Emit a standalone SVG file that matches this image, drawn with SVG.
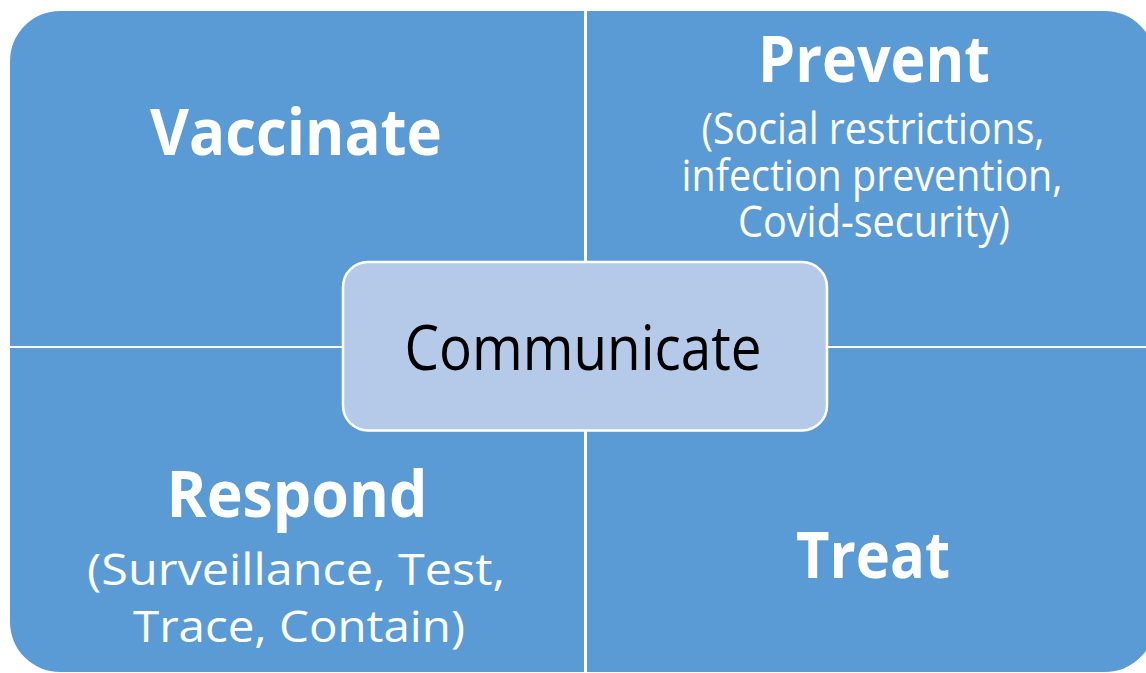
<svg xmlns="http://www.w3.org/2000/svg" width="1146" height="673" viewBox="0 0 1146 673">
<style>
.q{fill:#5B9BD5}
.t{font-family:"Open Sans","Noto Sans",sans-serif;fill:#fff;text-anchor:middle}
.b{font-weight:bold;font-size:64px}
.s{font-size:43px}
.c{font-family:"Open Sans","Noto Sans",sans-serif;font-size:63px;fill:#000;text-anchor:middle}
</style>
<rect width="1146" height="673" fill="#fff"/>
<g id="vaccinate">
<path class="q" d="M10,61 A50,50 0 0 1 60,11 L584,11 L584,346 L10,346 Z"/>
<text class="t b" x="296" y="155" textLength="292" lengthAdjust="spacingAndGlyphs">Vaccinate</text>
</g>
<g id="prevent">
<path class="q" d="M587,11 L1105,11 A50,50 0 0 1 1155,61 L1155,346 L587,346 Z"/>
<text class="t b" x="874" y="82" textLength="232" lengthAdjust="spacingAndGlyphs">Prevent</text>
<text class="t s"><tspan x="873" y="144" textLength="343" lengthAdjust="spacingAndGlyphs">(Social restrictions,</tspan><tspan x="872" y="190.5" textLength="381" lengthAdjust="spacingAndGlyphs">infection prevention,</tspan><tspan x="874" y="236.5" textLength="272" lengthAdjust="spacingAndGlyphs">Covid-security)</tspan></text>
</g>
<g id="respond">
<path class="q" d="M10,348 L584,348 L584,672 L60,672 A50,50 0 0 1 10,622 Z"/>
<text class="t b" x="297" y="517" textLength="261" lengthAdjust="spacingAndGlyphs">Respond</text>
<text class="t s"><tspan x="296" y="585" textLength="418" lengthAdjust="spacingAndGlyphs">(Surveillance, Test,</tspan><tspan x="299" y="641.5" textLength="332" lengthAdjust="spacingAndGlyphs">Trace, Contain)</tspan></text>
</g>
<g id="treat">
<path class="q" d="M587,348 L1155,348 L1155,622 A50,50 0 0 1 1105,672 L587,672 Z"/>
<text class="t b" x="873" y="578" textLength="154" lengthAdjust="spacingAndGlyphs">Treat</text>
</g>
<g id="connectors"></g>
<g id="communicate">
<rect x="343" y="262" width="484" height="168.5" rx="25" ry="25" fill="#B5CAE8" stroke="#fff" stroke-width="2.5"/>
<text class="c" x="583" y="370" textLength="357" lengthAdjust="spacingAndGlyphs">Communicate</text>
</g>
</svg>
